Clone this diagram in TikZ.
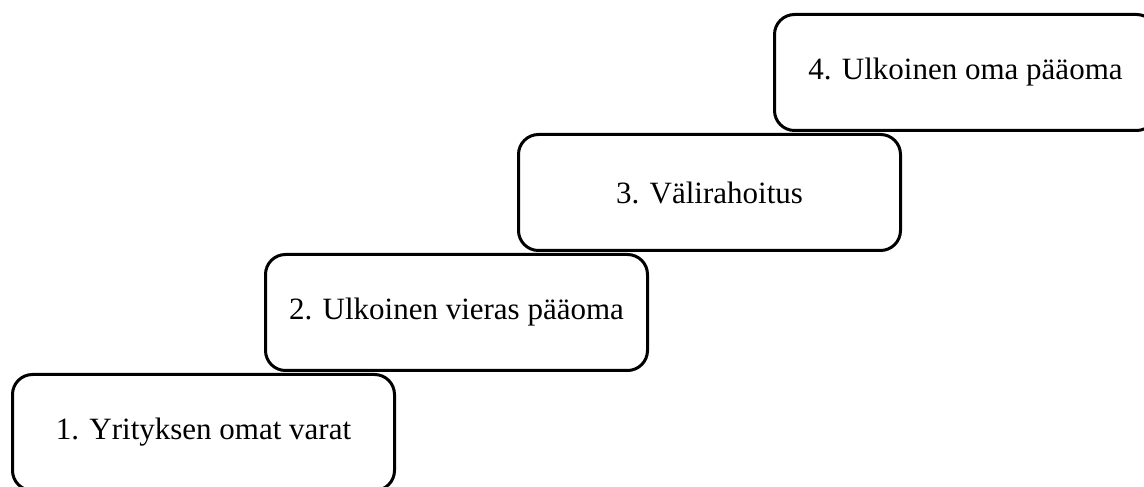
\documentclass[tikz,border=0pt]{standalone}
\usepackage{fontspec}
\setmainfont{Liberation Serif}
\begin{document}
\begin{tikzpicture}[x=1pt,y=1pt,
  stepbox/.style={draw=black, line width=3pt, rounded corners=20pt,
    minimum width=382pt, minimum height=116pt, anchor=north west,
    inner sep=0pt, font=\fontsize{31}{36}\selectfont}]
\useasboundingbox (0,0) rectangle (1144,487);
\node[stepbox] (s1) at (11,114) {1. Yrityksen omat varat};
\node[stepbox] (s2) at (264,234) {2. Ulkoinen vieras pääoma};
\node[stepbox] (s3) at (517,354) {3. Välirahoitus};
\node[stepbox] (s4) at (773,474) {4. Ulkoinen oma pääoma};
\end{tikzpicture}
\end{document}
